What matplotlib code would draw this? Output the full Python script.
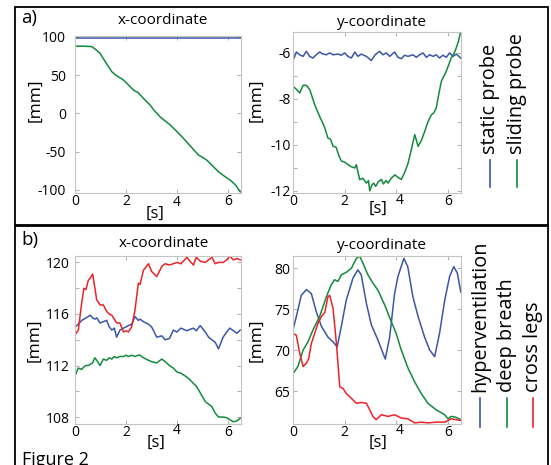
import matplotlib
matplotlib.use("Agg")
import matplotlib.pyplot as plt
from matplotlib.patches import Rectangle
from matplotlib.lines import Line2D

plt.rcParams['font.family'] = ['Open Sans', 'DejaVu Sans']

BLUE = '#3b56a6'
GREEN = '#138a3c'
RED = '#ec2228'
W, H = 551, 465

# ---- a) x-coordinate ----
ax_static_t = [0, 1, 2, 3, 4, 5, 6, 6.5]
ax_static = [99, 99, 99, 99, 99, 99, 99, 99]
ax_slide_t = [0, 0.3, 0.65, 0.8, 0.98, 1.2, 1.44, 1.6, 1.9, 2.1, 2.29, 2.48, 2.7, 2.94,
              3.1, 3.33, 3.5, 3.73, 4.0, 4.25, 4.5, 4.84, 5.0, 5.16, 5.4, 5.62, 5.85,
              6.08, 6.3, 6.47]
ax_slide = [88, 88, 87.5, 84, 78.6, 67, 54.6, 50, 43.7, 37, 30.6, 27, 19, 11,
            4, -4.3, -9, -15, -24, -32.6, -42, -54.5, -57.5, -61, -69, -76.3, -82,
            -87.2, -94, -102.5]

# ---- a) y-coordinate ----
ay_static_t = [0.04, 0.13, 0.26, 0.39, 0.52, 0.64, 0.77, 0.90, 1.03, 1.16, 1.29, 1.42,
               1.55, 1.74, 1.87, 2.0, 2.13, 2.26, 2.39, 2.51, 2.64, 2.84, 3.03, 3.18,
               3.35, 3.48, 3.61, 3.74, 3.93, 4.06, 4.19, 4.32, 4.45, 4.64, 4.77, 4.9,
               5.03, 5.16, 5.29, 5.42, 5.54, 5.67, 5.8, 5.93, 6.06, 6.19, 6.32, 6.49]
ay_static = [-6.22, -5.96, -6.08, -6.15, -5.93, -6.15, -6.22, -6.08, -5.96, -6.05, -6.08,
             -6.0, -6.08, -6.05, -6.1, -6.0, -6.15, -6.22, -5.96, -6.15, -6.05, -6.15,
             -6.33, -6.08, -5.93, -6.08, -6.0, -6.15, -5.96, -6.19, -6.25, -6.1, -6.15,
             -6.08, -6.19, -6.08, -6.0, -6.19, -6.08, -6.15, -6.08, -6.22, -6.1, -6.19,
             -6.0, -6.15, -6.05, -6.22]
ay_slide_t = [0.04, 0.15, 0.26, 0.39, 0.52, 0.65, 0.84, 1.03, 1.13, 1.23, 1.35, 1.45,
              1.55, 1.67, 1.77, 1.87, 2.0, 2.13, 2.26, 2.39, 2.45, 2.58, 2.7, 2.84,
              2.92, 2.97, 3.05, 3.12, 3.2, 3.3, 3.42, 3.5, 3.6, 3.68, 3.8, 3.94, 4.05,
              4.19, 4.32, 4.45, 4.58, 4.71, 4.84, 4.97, 5.1, 5.22, 5.35, 5.45, 5.54,
              5.64, 5.74, 5.84, 5.93, 6.03, 6.12, 6.22, 6.31, 6.4, 6.49]
ay_slide = [-7.49, -7.6, -7.74, -7.41, -7.41, -7.6, -8.25, -8.76, -9.0, -9.26, -9.7,
            -9.75, -10.06, -10.1, -10.45, -10.7, -10.75, -10.86, -10.95, -11.0, -10.86,
            -11.51, -11.45, -11.66, -11.55, -12.0, -11.75, -11.66, -11.8, -11.6, -11.5,
            -11.7, -11.55, -11.66, -11.45, -11.3, -11.4, -11.5, -11.2, -10.8, -10.2,
            -9.55, -10.06, -9.8, -9.4, -9.0, -8.7, -8.6, -8.4, -7.8, -7.23, -7.0, -6.8,
            -6.5, -6.22, -6.05, -5.8, -5.5, -5.06]

# ---- b) x-coordinate ----
bx_t = [0, 0.13, 0.26, 0.35, 0.43, 0.52, 0.6, 0.69, 0.78, 0.85, 0.98, 1.11, 1.24, 1.34,
        1.44, 1.54, 1.63, 1.76, 1.9, 2.0, 2.09, 2.22, 2.35, 2.48, 2.55, 2.68, 2.88, 3.0,
        3.2, 3.4, 3.53, 3.7, 3.85, 3.99, 4.15, 4.38, 4.5, 4.64, 4.75, 4.9, 5.1, 5.23,
        5.36, 5.49, 5.62, 5.8, 5.94, 6.06, 6.2, 6.34, 6.47]
bx_hyper = [115.0, 115.2, 115.5, 115.6, 115.7, 115.8, 115.9, 115.7, 115.6, 115.7, 115.3,
            115.4, 115.5, 115.0, 114.75, 114.9, 114.2, 114.75, 114.9, 115.0, 115.1, 115.2,
            115.8, 115.5, 115.6, 115.4, 115.2, 115.0, 114.2, 114.3, 114.0, 114.1, 114.75,
            114.6, 114.9, 114.7, 114.8, 114.9, 114.7, 115.1, 114.6, 114.2, 114.0, 113.8,
            113.3, 114.2, 114.6, 114.9, 114.7, 114.5, 114.75]
bx_breath = [111.2, 111.8, 111.7, 111.9, 112.0, 112.0, 112.1, 112.2, 112.6, 112.4, 112.0,
             112.5, 112.4, 112.6, 112.5, 112.7, 112.6, 112.7, 112.7, 112.8, 112.7, 112.8,
             112.7, 112.8, 112.8, 112.6, 112.4, 112.3, 112.2, 112.5, 112.3, 112.0, 111.8,
             111.5, 111.4, 111.1, 110.9, 110.6, 110.4, 109.9, 109.2, 109.0, 108.8, 108.3,
             108.0, 108.0, 107.95, 107.8, 107.63, 107.7, 107.9]
bx_cross = [114.37, 114.75, 116.83, 118.0, 117.9, 118.6, 118.8, 119.1, 118.0, 117.1, 116.7,
            116.7, 116.2, 116.0, 115.9, 115.6, 115.3, 115.3, 114.6, 114.7, 114.6, 115.0,
            116.3, 118.4, 118.3, 119.4, 119.9, 119.3, 118.9, 119.7, 119.9, 119.8, 119.9,
            120.0, 119.9, 120.4, 120.1, 119.8, 120.4, 120.1, 120.0, 120.2, 120.4, 119.9,
            120.0, 120.0, 120.2, 120.5, 120.2, 120.3, 120.2]

# ---- b) y-coordinate ----
by_hyper_t = [0.0, 0.19, 0.32, 0.52, 0.71, 0.9, 1.1, 1.35, 1.55, 1.71, 1.87, 2.06, 2.32,
              2.51, 2.64, 2.84, 3.03, 3.29, 3.57, 3.74, 3.93, 4.06, 4.29, 4.44, 4.64,
              4.84, 5.09, 5.29, 5.48, 5.67, 5.87, 6.06, 6.22, 6.36, 6.49]
by_hyper = [72.45, 74.9, 76.7, 77.4, 76.9, 74.7, 72.9, 71.6, 71.0, 70.4, 72.9, 76.1, 78.8,
            79.8, 79.2, 75.7, 73.1, 71.2, 68.9, 71.6, 76.9, 79.0, 81.2, 80.2, 76.5, 74.1,
            71.6, 70.0, 69.2, 72.05, 76.1, 79.0, 80.2, 79.4, 77.1]
by_breath_t = [0.0, 0.19, 0.39, 0.58, 0.77, 1.03, 1.29, 1.48, 1.61, 1.74, 1.87, 2.06, 2.26,
               2.45, 2.58, 2.71, 2.9, 3.09, 3.29, 3.55, 3.8, 3.99, 4.19, 4.45, 4.71, 4.96,
               5.22, 5.54, 5.87, 6.0, 6.12, 6.3, 6.49]
by_breath = [67.1, 68.0, 70.0, 71.0, 72.45, 74.1, 76.5, 78.0, 78.6, 78.4, 79.2, 79.5, 80.0,
             81.2, 81.5, 80.6, 79.2, 78.2, 77.3, 75.5, 73.5, 72.05, 70.0, 67.8, 66.1, 64.7,
             63.5, 62.7, 62.1, 61.6, 61.9, 61.8, 61.5]
by_cross_t = [0.0, 0.13, 0.26, 0.39, 0.52, 0.61, 0.71, 0.84, 0.97, 1.1, 1.23, 1.35, 1.42,
              1.55, 1.68, 1.81, 1.94, 2.06, 2.26, 2.45, 2.64, 2.84, 2.97, 3.09, 3.22,
              3.42, 3.68, 3.93, 4.19, 4.45, 4.71, 4.97, 5.22, 5.54, 5.87, 6.12, 6.49]
by_cross = [72.05, 71.8, 69.6, 68.0, 68.4, 69.0, 70.8, 72.05, 73.3, 74.1, 74.6, 76.5, 76.7,
            75.1, 70.8, 65.5, 65.3, 64.7, 64.1, 63.5, 63.6, 63.5, 62.7, 61.9, 61.5, 62.1,
            61.9, 62.1, 61.7, 61.6, 61.1, 61.2, 61.1, 61.2, 61.2, 61.6, 61.4]


def px(x0, y0, x1, y1):
    # pixel box (left, top, right, bottom) -> figure fractions
    return [x0 / W, 1 - y1 / H, (x1 - x0) / W, (y1 - y0) / H]


def style(ax, ylim, yticks, ylabels, ypad):
    ax.set_xlim(0, 6.5)
    ax.set_ylim(*ylim)
    ax.set_xticks([0, 2, 4, 6])
    ax.set_xticklabels(['0', '2', '', '6'])  # the "4" is drawn next to [s] below
    ax.set_yticks(yticks)
    ax.set_yticklabels(ylabels)
    for s in ax.spines.values():
        s.set_color('#c4c4c4')
        s.set_linewidth(0.8)
    ax.tick_params(direction='in', length=3, width=0.7, color='#b0b0b0',
                   top=True, right=True, labelsize=10)
    ax.tick_params(axis='x', pad=1)
    ax.tick_params(axis='y', pad=ypad)


fig = plt.figure(figsize=(W / 100, H / 100), dpi=100)

a1 = fig.add_axes(px(75, 36, 241, 193))
a1.plot(ax_static_t, ax_static, color=BLUE, lw=1.1)
a1.plot(ax_slide_t, ax_slide, color=GREEN, lw=1.1)
style(a1, (-104, 101.3), [-100, -50, 0, 50, 100], ['-100', '-50', '0', '50', '100'], 6.5)

a2 = fig.add_axes(px(293, 32, 461, 193))
a2.plot(ay_static_t, ay_static, color=BLUE, lw=1.1)
a2.plot(ay_slide_t, ay_slide, color=GREEN, lw=1.1)
style(a2, (-12.09, -5.09), [-12, -11, -10, -9, -8, -7, -6],
      ['-12', '', '-10', '', '-8', '', '-6'], 1.5)

b1 = fig.add_axes(px(75, 256, 241, 424))
b1.plot(bx_t, bx_hyper, color=BLUE, lw=1.1)
b1.plot(bx_t, bx_breath, color=GREEN, lw=1.1)
b1.plot(bx_t, bx_cross, color=RED, lw=1.1)
style(b1, (107.46, 120.5), [108, 110, 112, 114, 116, 118, 120],
      ['108', '', '112', '', '116', '', '120'], 3.5)

b2 = fig.add_axes(px(293, 256, 461, 424))
b2.plot(by_hyper_t, by_hyper, color=BLUE, lw=1.1)
b2.plot(by_breath_t, by_breath, color=GREEN, lw=1.1)
b2.plot(by_cross_t, by_cross, color=RED, lw=1.1)
style(b2, (60.97, 81.5), [65, 70, 75, 80], ['65', '70', '75', '80'], 2)


def ft(x, y, s, **kw):
    fig.text(x / W, 1 - y / H, s, **kw)


# panel frames
fig.patches.append(Rectangle((15 / W, 1 - 225 / H), 533 / W, 218 / H, fill=False,
                             ec='black', lw=1.3, transform=fig.transFigure))
fig.patches.append(Rectangle((15 / W, -0.02), 533 / W, 1 - 226 / H + 0.02, fill=False,
                             ec='black', lw=1.3, transform=fig.transFigure))

ft(21, 18, 'a)', fontsize=13.5, va='center')
ft(21, 240, 'b)', fontsize=13.5, va='center')
ft(163, 20, 'x-coordinate', fontsize=11, ha='center', va='center')
ft(382, 22, 'y-coordinate', fontsize=11, ha='center', va='center')
ft(164, 243, 'x-coordinate', fontsize=11, ha='center', va='center')
ft(382, 245, 'y-coordinate', fontsize=11, ha='center', va='center')

for x, y in [(35, 100), (256, 100), (34, 340), (256, 340)]:
    ft(x, y, '[mm]', fontsize=12.5, rotation=90, ha='center', va='center')
for x, y in [(155, 214), (378, 209), (156, 443), (378, 443)]:
    ft(x, y, '[s]', fontsize=12, ha='center', va='center')
for x, y in [(177, 202), (400, 200), (177, 430), (400, 430)]:
    ft(x, y, '4', fontsize=10, ha='center', va='center')

ft(22, 465, 'Figure 2', fontsize=13, va='baseline')

# legends: rotated names with a short line below
legend_a = [('static probe', BLUE, 490), ('sliding probe', GREEN, 517)]
for name, c, x in legend_a:
    ft(x, 154, name, fontsize=14.3, rotation=90, ha='center', va='bottom')
    fig.add_artist(Line2D([x / W, x / W], [1 - 160 / H, 1 - 187 / H], color=c, lw=1.2))

legend_b = [('hyperventilation', BLUE, 480), ('deep breath', GREEN, 507),
            ('cross legs', RED, 533)]
for name, c, x in legend_b:
    ft(x, 392, name, fontsize=14.3, rotation=90, ha='center', va='bottom')
    fig.add_artist(Line2D([x / W, x / W], [1 - 398 / H, 1 - 427 / H], color=c, lw=1.2))

fig.savefig('out.png', dpi=100)
